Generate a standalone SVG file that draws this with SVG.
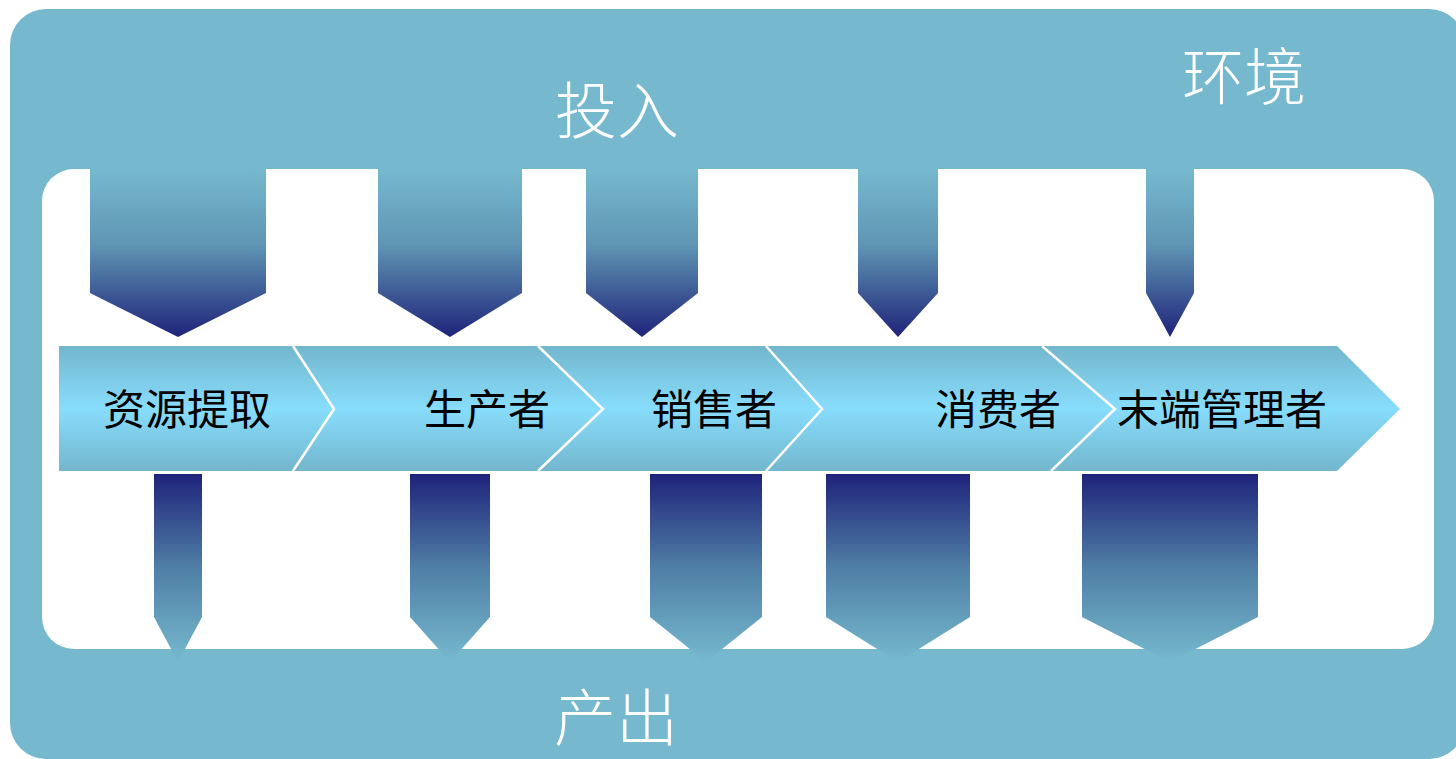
<svg xmlns="http://www.w3.org/2000/svg" width="1456" height="759" viewBox="0 0 1456 759">
  <style>
    .lbl { font-family: "Noto Sans CJK SC", "Noto Sans", sans-serif; font-size: 42px; fill: #000; text-anchor: middle; }
    .big { font-family: "Noto Sans CJK SC", "Noto Sans", sans-serif; font-size: 62px; fill: #fff; text-anchor: middle; font-weight: 300; }
    .sep { fill: none; stroke: #fff; stroke-width: 2.5; stroke-linejoin: miter; }
  </style>
  <defs>
    <linearGradient id="gChev" gradientUnits="userSpaceOnUse" x1="0" y1="346" x2="0" y2="471">
      <stop offset="0" stop-color="#73b6cd"/>
      <stop offset="0.5" stop-color="#87ddfc"/>
      <stop offset="1" stop-color="#73b6cd"/>
    </linearGradient>
    <linearGradient id="gIn" x1="0" y1="0" x2="0" y2="1">
      <stop offset="0" stop-color="#76b9cf"/>
      <stop offset="0.45" stop-color="#5f96b3"/>
      <stop offset="1" stop-color="#1f237a"/>
    </linearGradient>
    <linearGradient id="gOut" x1="0" y1="0" x2="0" y2="1">
      <stop offset="0" stop-color="#1f237a"/>
      <stop offset="0.5" stop-color="#4f7fa5"/>
      <stop offset="1" stop-color="#76b9cf"/>
    </linearGradient>
  </defs>

  <g id="environment">
    <rect x="10" y="9" width="1455" height="750" rx="36" ry="36" fill="#76b9cf"/>
    <rect x="42" y="169" width="1392" height="480" rx="32" ry="32" fill="#ffffff"/>
    <text class="big" x="1244" y="100">环境</text>
  </g>

  <g id="inputs">
    <path d="M90,169 H266 V293 L178,337 L90,293 Z" fill="url(#gIn)"/>
    <path d="M378,169 H522 V293 L450,337 L378,293 Z" fill="url(#gIn)"/>
    <path d="M586,169 H698 V293 L642,337 L586,293 Z" fill="url(#gIn)"/>
    <path d="M858,169 H938 V293 L898,337 L858,293 Z" fill="url(#gIn)"/>
    <path d="M1146,169 H1194 V293 L1170,337 L1146,293 Z" fill="url(#gIn)"/>
    <text class="big" x="617" y="134">投入</text>
  </g>

  <g id="outputs">
    <path d="M154,474 H202 V617 L178,662 L154,617 Z" fill="url(#gOut)"/>
    <path d="M410,474 H490 V617 L450,662 L410,617 Z" fill="url(#gOut)"/>
    <path d="M650,474 H762 V617 L706,662 L650,617 Z" fill="url(#gOut)"/>
    <path d="M826,474 H970 V617 L898,662 L826,617 Z" fill="url(#gOut)"/>
    <path d="M1082,474 H1258 V617 L1170,662 L1082,617 Z" fill="url(#gOut)"/>
    <text class="big" x="616" y="741">产出</text>
  </g>

  <g id="stage1">
    <path d="M59,346 L293,346 L334,409 L293,471 L59,471 Z" fill="url(#gChev)"/>
    <text class="lbl" x="187" y="425">资源提取</text>
  </g>
  <g id="stage2">
    <path d="M293,346 L538,346 L603,409 L538,471 L293,471 L334,409 Z" fill="url(#gChev)"/>
    <text class="lbl" x="487" y="425">生产者</text>
  </g>
  <g id="stage3">
    <path d="M538,346 L766,346 L822,409 L766,471 L538,471 L603,409 Z" fill="url(#gChev)"/>
    <text class="lbl" x="714" y="425">销售者</text>
  </g>
  <g id="stage4">
    <path d="M766,346 L1042,346 L1115,409 L1051,471 L766,471 L822,409 Z" fill="url(#gChev)"/>
    <text class="lbl" x="998" y="425">消费者</text>
  </g>
  <g id="stage5">
    <path d="M1042,346 L1337,346 L1400,409 L1337,471 L1051,471 L1115,409 Z" fill="url(#gChev)"/>
    <text class="lbl" x="1222" y="425">末端管理者</text>
  </g>

  <g id="connectors">
    <polyline class="sep" points="293,346 334,409 293,471"/>
    <polyline class="sep" points="538,346 603,409 538,471"/>
    <polyline class="sep" points="766,346 822,409 766,471"/>
    <polyline class="sep" points="1042,346 1115,409 1051,471"/>
  </g>
</svg>
